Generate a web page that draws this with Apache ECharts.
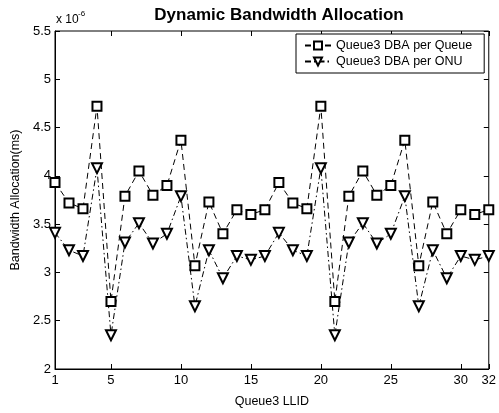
<!DOCTYPE html>
<html>
<head>
<meta charset="utf-8">
<script src="https://cdn.jsdelivr.net/npm/echarts@6/dist/echarts.min.js"></script>
<style>
  html, body { margin: 0; padding: 0; background: #fff; }
  #chart { width: 499px; height: 413px; }
</style>
</head>
<body>
<div id="chart"></div>
<script>
// values are in units of 1e-6 (axis shows "x 10^-6")
const llid = [1, 2, 3, 4, 5, 6, 7, 8, 9, 10, 11, 12, 13, 14, 15, 16,
  17, 18, 19, 20, 21, 22, 23, 24, 25, 26, 27, 28, 29, 30, 31, 32];
const dbaPerQueue = [3.93, 3.72, 3.66, 4.72, 2.7, 3.79, 4.05, 3.8, 3.9, 4.37, 3.07, 3.73, 3.4, 3.65, 3.6, 3.65,
  3.93, 3.72, 3.66, 4.72, 2.7, 3.79, 4.05, 3.8, 3.9, 4.37, 3.07, 3.73, 3.4, 3.65, 3.6, 3.65];
const dbaPerOnu = [3.41, 3.23, 3.17, 4.08, 2.35, 3.31, 3.51, 3.3, 3.4, 3.79, 2.65, 3.23, 2.94, 3.17, 3.13, 3.17,
  3.41, 3.23, 3.17, 4.08, 2.35, 3.31, 3.51, 3.3, 3.4, 3.79, 2.65, 3.23, 2.94, 3.17, 3.13, 3.17];
const xTicks = [1, 5, 10, 15, 20, 25, 30, 32];
const seriesNames = ['Queue3 DBA per Queue', 'Queue3 DBA per ONU'];

const chartDom = document.getElementById('chart');
const myChart = echarts.init(chartDom);

const font = 'Liberation Sans, Arial, sans-serif';
const pairs = vals => llid.map((x, i) => [x, vals[i]]);

const tickStyle = { show: true, inside: true, length: 5, lineStyle: { color: '#000', width: 1 } };

const option = {
  backgroundColor: '#fff',
  animation: false,
  textStyle: { fontFamily: font, color: '#000' },
  title: {
    text: 'Dynamic Bandwidth Allocation',
    left: 274,
    textAlign: 'center',
    top: 2,
    textStyle: { fontSize: 17, fontWeight: 'bold', color: '#000', fontFamily: font }
  },
  grid: { left: 55, right: 6, top: 31, bottom: 37, show: true, borderColor: '#000', borderWidth: 1 },
  legend: {
    orient: 'vertical',
    left: 296,
    top: 34,
    padding: [5, 12, 5, 8],
    itemGap: 3,
    itemWidth: 26,
    itemHeight: 10,
    borderColor: '#000',
    borderWidth: 1,
    backgroundColor: '#fff',
    textStyle: { fontSize: 12.5, color: '#000', fontFamily: font },
    data: seriesNames
  },
  xAxis: [
    {
      type: 'value',
      min: 1,
      max: 32,
      name: 'Queue3 LLID',
      nameLocation: 'middle',
      nameGap: 26,
      nameTextStyle: { fontSize: 12.5, color: '#000' },
      axisLine: { show: true, lineStyle: { color: '#000' } },
      axisTick: Object.assign({ customValues: xTicks }, tickStyle),
      axisLabel: { customValues: xTicks, fontSize: 13, color: '#000', margin: 5 },
      splitLine: { show: false }
    },
    {
      type: 'value',
      position: 'top',
      min: 1,
      max: 32,
      axisLine: { show: false },
      axisTick: Object.assign({ customValues: xTicks }, tickStyle),
      axisLabel: { show: false },
      splitLine: { show: false }
    }
  ],
  yAxis: [
    {
      type: 'value',
      min: 2,
      max: 5.5,
      interval: 0.5,
      name: 'Bandwidth Allocation(ms)',
      nameLocation: 'middle',
      nameGap: 28,
      nameTextStyle: { fontSize: 12.5, color: '#000' },
      axisLine: { show: true, lineStyle: { color: '#000' } },
      axisTick: tickStyle,
      axisLabel: { fontSize: 13, color: '#000', margin: 4 },
      splitLine: { show: false }
    },
    {
      type: 'value',
      position: 'right',
      min: 2,
      max: 5.5,
      interval: 0.5,
      axisLine: { show: false },
      axisTick: tickStyle,
      axisLabel: { show: false },
      splitLine: { show: false }
    }
  ],
  graphic: [
    {
      type: 'text',
      left: 56,
      top: 14,
      style: { text: 'x 10', fontSize: 12, fontFamily: font, fill: '#000' }
    },
    {
      type: 'text',
      left: 78,
      top: 10,
      style: { text: '-6', fontSize: 8, fontFamily: font, fill: '#000' }
    }
  ],
  series: [
    {
      name: seriesNames[0],
      type: 'line',
      data: pairs(dbaPerQueue),
      symbol: 'emptyRect',
      symbolSize: 9,
      itemStyle: { color: '#000', borderWidth: 1 },
      lineStyle: { color: '#000', width: 1, type: [6, 4] }
    },
    {
      name: seriesNames[1],
      type: 'line',
      data: pairs(dbaPerOnu),
      symbol: 'emptyTriangle',
      symbolRotate: 180,
      symbolSize: 10,
      itemStyle: { color: '#000', borderWidth: 1 },
      lineStyle: { color: '#000', width: 1, type: [6, 3, 1.5, 3] }
    }
  ]
};

myChart.setOption(option);
</script>
</body>
</html>
